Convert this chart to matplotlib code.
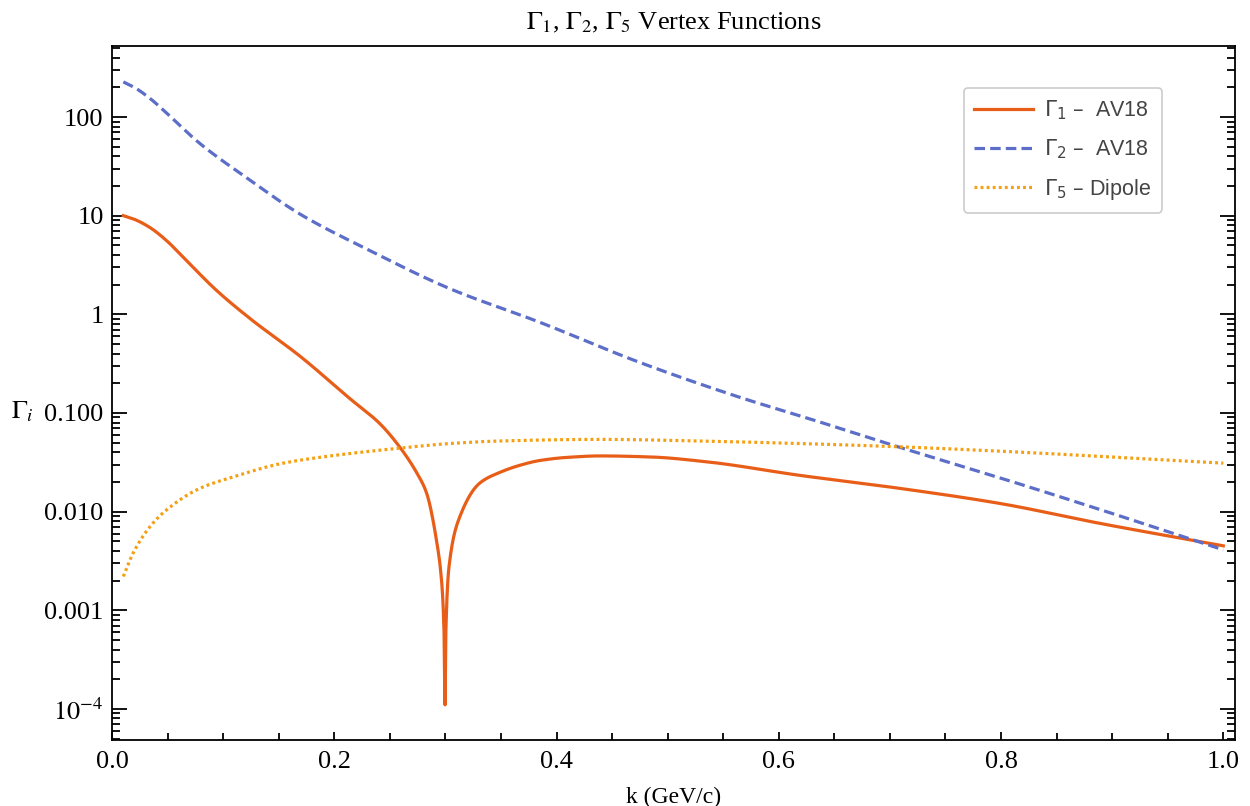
import matplotlib
matplotlib.use("Agg")
import matplotlib.pyplot as plt
from matplotlib.ticker import FixedLocator, FixedFormatter, NullFormatter
import numpy as np

# ---------------- data ----------------
k_g2 = [0.0102, 0.02, 0.034, 0.049, 0.079, 0.124, 0.169, 0.229, 0.304, 0.385, 0.475,
        0.565, 0.631, 0.703, 0.799, 0.889, 1.0]
g2 = [227, 200, 155, 110, 54, 23, 10.4, 4.6, 1.82, 0.83, 0.325,
      0.144, 0.085, 0.047, 0.022, 0.0105, 0.0041]

k_g1 = [0.0102, 0.02, 0.034, 0.049, 0.064, 0.094, 0.124, 0.17, 0.214, 0.241, 0.259,
        0.274, 0.283, 0.292, 0.2967, 0.2988, 0.2997, 0.3004, 0.3033, 0.313,
        0.331, 0.349, 0.367, 0.385, 0.41, 0.439, 0.485, 0.535, 0.619, 0.709, 0.799,
        0.889, 1.0]
g1 = [10.0, 9.2, 7.6, 5.6, 3.8, 1.75, 0.91, 0.37, 0.14, 0.078, 0.045,
      0.025, 0.0155, 0.0051, 0.0019, 5.9e-4, 1.1e-4, 5.9e-4, 0.0028, 0.0089,
      0.0195, 0.025, 0.0295, 0.033, 0.0355, 0.0367, 0.0358, 0.032, 0.0233, 0.0172,
      0.0121, 0.0076, 0.0045]

k_g5 = [0.0102, 0.019, 0.034, 0.049, 0.079, 0.109, 0.154, 0.199, 0.259, 0.304,
        0.349, 0.439, 0.529, 0.619, 0.709, 0.799, 1.0]
g5 = [0.0022, 0.0038, 0.0070, 0.0104, 0.0172, 0.0225, 0.031, 0.037, 0.044, 0.049,
      0.052, 0.054, 0.052, 0.049, 0.0454, 0.041, 0.031]

labels = ["$\\Gamma_1$ \u2013  AV18", "$\\Gamma_2$ \u2013  AV18", "$\\Gamma_5$ \u2013 Dipole"]
ytick_vals = [1e-4, 1e-3, 1e-2, 1e-1, 1, 10, 100]
ytick_labels = [r"$10^{-4}$", "0.001", "0.010", "0.100", "1", "10", "100"]
xtick_vals = [0.0, 0.2, 0.4, 0.6, 0.8, 1.0]
xtick_labels = ["0.0", "0.2", "0.4", "0.6", "0.8", "1.0"]

# ---------------- style ----------------
plt.rcParams['font.family'] = ['Liberation Serif', 'DejaVu Serif']
plt.rcParams['mathtext.fontset'] = 'stix'

fig = plt.figure(figsize=(12.5, 8.06), dpi=100)
ax = fig.add_axes([112/1250, 1 - 740/806, (1235-112)/1250, (740-46)/806])

c1 = '#E85E18'
c2 = '#5C6EC8'
c5 = '#F5A014'


def pchip(xs, ys, xx):
    """Monotone cubic Hermite interpolation (Fritsch-Carlson)."""
    xs = np.asarray(xs, float); ys = np.asarray(ys, float)
    h = np.diff(xs); d = np.diff(ys) / h
    n = len(xs)
    m = np.zeros(n)
    for i in range(1, n - 1):
        if d[i-1] * d[i] <= 0:
            m[i] = 0.0
        else:
            w1 = 2*h[i] + h[i-1]; w2 = h[i] + 2*h[i-1]
            m[i] = (w1 + w2) / (w1/d[i-1] + w2/d[i])
    m[0] = d[0]; m[-1] = d[-1]
    idx = np.clip(np.searchsorted(xs, xx) - 1, 0, n - 2)
    t = (xx - xs[idx]) / h[idx]
    h00 = 2*t**3 - 3*t**2 + 1; h10 = t**3 - 2*t**2 + t
    h01 = -2*t**3 + 3*t**2; h11 = t**3 - t**2
    return (h00*ys[idx] + h10*h[idx]*m[idx] + h01*ys[idx+1] + h11*h[idx]*m[idx+1])


def smooth(xs, ys):
    xx = np.union1d(np.linspace(xs[0], xs[-1], 1500), np.asarray(xs, float))
    return xx, 10**pchip(xs, np.log10(ys), xx)


x1, y1 = smooth(k_g1, g1)
x2, y2 = smooth(k_g2, g2)
x5, y5 = smooth(k_g5, g5)

ax.plot(x1, y1, color=c1, lw=2.3, label=labels[0])
ax.plot(x2, y2, color=c2, lw=2.3, ls=(0, (3.3, 1.6)), label=labels[1])
ax.plot(x5, y5, color=c5, lw=2.3, ls=(0, (0.9, 1.0)), label=labels[2])

ax.set_yscale('log')
ax.set_xlim(0, 1.0105)
ax.set_ylim(10**(-4.315), 10**2.72)

ax.yaxis.set_major_locator(FixedLocator(ytick_vals))
ax.yaxis.set_major_formatter(FixedFormatter(ytick_labels))
minor = []
for e in range(-5, 3):
    for mm in range(2, 10):
        minor.append(mm * 10.0**e)
ax.yaxis.set_minor_locator(FixedLocator(minor))
ax.yaxis.set_minor_formatter(NullFormatter())

ax.xaxis.set_major_locator(FixedLocator(xtick_vals))
ax.xaxis.set_major_formatter(FixedFormatter(xtick_labels))
ax.xaxis.set_minor_locator(FixedLocator(np.arange(0.05, 1.0, 0.05)))

ax.tick_params(axis='y', which='major', direction='in', length=11, width=1.3,
               labelsize=19, left=True, right=True, pad=6)
ax.tick_params(axis='y', which='minor', direction='in', length=6, width=1.3,
               left=True, right=True)
ax.tick_params(axis='x', which='major', direction='in', length=6, width=1.3,
               labelsize=19, bottom=True, top=False, pad=8)
ax.tick_params(axis='x', which='minor', direction='in', length=5, width=1.3,
               bottom=True, top=False)
for s in ax.spines.values():
    s.set_linewidth(1.3)

ax.set_title(r"$\Gamma_1$, $\Gamma_2$, $\Gamma_5$ Vertex Functions", fontsize=19, pad=12)
ax.set_xlabel("k (GeV/c)", fontsize=17, labelpad=10)
ax.set_ylabel(r"$\Gamma_i$", fontsize=19, rotation=0, va='center')
ax.yaxis.set_label_coords(-0.08, 0.473)

leg = ax.legend(loc='upper right', bbox_to_anchor=(0.935, 0.9395),
                prop={'family': ['Liberation Sans', 'DejaVu Sans'], 'size': 15.5},
                handlelength=2.75, handletextpad=0.5, labelspacing=0.72,
                borderpad=0.5, borderaxespad=0.0, frameon=True, fancybox=True,
                framealpha=1)
leg.get_frame().set_edgecolor('#cccccc')
leg.get_frame().set_linewidth(1.2)
for t in leg.get_texts():
    t.set_color('#444444')
    t.set_math_fontfamily('dejavusans')

fig.savefig('out.png', dpi=100)
